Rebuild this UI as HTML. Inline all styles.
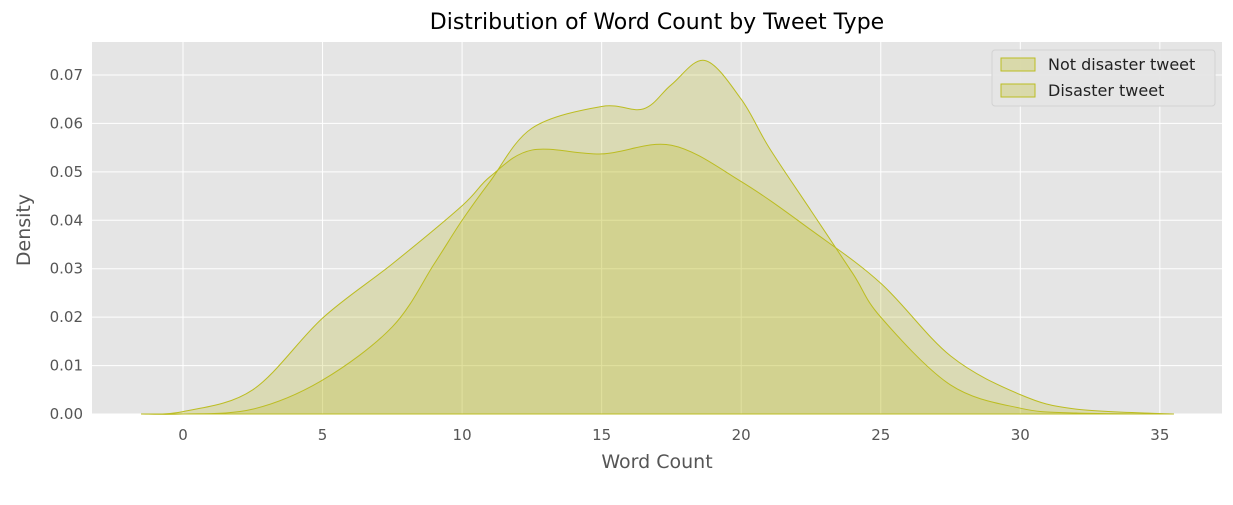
<!DOCTYPE html>
<html><head><meta charset="utf-8"><style>
body{margin:0;background:#fff;font-family:"Liberation Sans","DejaVu Sans",sans-serif}
svg text{font-family:"DejaVu Sans","Liberation Sans",sans-serif}
</style></head><body>
<svg id="c" width="1233" height="500">
<rect x="92" y="42" width="1130" height="372" fill="#e5e5e5"/>
<g id="grid"></g><g id="marks"></g><g id="axes"></g>
<text x="657" y="29" font-size="22" text-anchor="middle" fill="#000">Distribution of Word Count by Tweet Type</text>
<text x="657" y="468" font-size="19" text-anchor="middle" fill="#555">Word Count</text>
<text transform="translate(30,230) rotate(-90)" font-size="19" text-anchor="middle" fill="#555">Density</text>
<g>
<rect x="992" y="50" width="223" height="56" rx="3" fill="#e5e5e5" stroke="#d0d0d0" opacity="0.9"/>
<g><rect x="1001" y="58" width="34" height="13" fill="rgba(188,189,34,0.3)" stroke="#bcbd22"/><text x="1048" y="70" font-size="16" fill="#222">Not disaster tweet</text></g>
<g><rect x="1001" y="84" width="34" height="13" fill="rgba(188,189,34,0.3)" stroke="#bcbd22"/><text x="1048" y="96" font-size="16" fill="#222">Disaster tweet</text></g>
</g>
</svg>
<script>
const xTicks=[0,5,10,15,20,25,30,35];
const yTicks=[0,0.01,0.02,0.03,0.04,0.05,0.06,0.07];
const notX=[-1.5,0,2.5,5,7.5,10,11,12.5,15,17.5,20,22.5,25,27.5,30,32,35.5];
const notY=[0,0.0005,0.005,0.0198,0.031,0.043,0.049,0.0545,0.0537,0.0555,0.048,0.038,0.027,0.012,0.004,0.001,0];
const disX=[-1.5,0,2.5,5,7.5,9,10,11,12.5,15,16.5,17.5,18.7,20,21,22.5,24,25,27.5,30,32,35.5];
const disY=[0,0,0.001,0.007,0.018,0.031,0.040,0.048,0.059,0.0635,0.063,0.068,0.073,0.065,0.055,0.042,0.029,0.020,0.006,0.0012,0.0002,0];
const X=v=>183+v*27.91, Y=v=>414-v*4843;
const NS="http://www.w3.org/2000/svg";
function mk(t,a,p){const e=document.createElementNS(NS,t);for(const k in a)e.setAttribute(k,a[k]);p.appendChild(e);return e;}
const g=document.getElementById('grid'),ax=document.getElementById('axes'),m=document.getElementById('marks');
xTicks.forEach(t=>{const l=mk('line',{x1:X(t),x2:X(t),y1:42,y2:414,stroke:'#fff','stroke-width':1},g);


const tx=mk('text',{x:X(t),y:440,'font-size':15,'text-anchor':'middle',fill:'#555'},ax);tx.textContent=t;

});
yTicks.forEach(t=>{const l=mk('line',{x1:92,x2:1222,y1:Y(t),y2:Y(t),stroke:'#fff','stroke-width':1},g);


const tx=mk('text',{x:83,y:Y(t)+5,'font-size':15,'text-anchor':'end',fill:'#555'},ax);tx.textContent=t.toFixed(2);

});
function path(xs,ys){const p=xs.map((x,i)=>[X(x),Y(ys[i])]);let d=`M${p[0][0]},${Y(0)} L${p[0][0]},${p[0][1]}`;
for(let i=0;i<p.length-1;i++){const a=p[i-1]||p[i],b=p[i],c=p[i+1],e=p[i+2]||c;
d+=` C${b[0]+(c[0]-a[0])/6},${b[1]+(c[1]-a[1])/6} ${c[0]-(e[0]-b[0])/6},${c[1]-(e[1]-b[1])/6} ${c[0]},${c[1]}`;}
return d+` L${p[p.length-1][0]},${Y(0)} Z`;}
const a=mk('path',{d:path(notX,notY),fill:'rgba(188,189,34,0.25)',stroke:'#bcbd22','stroke-width':1},m);


const b=mk('path',{d:path(disX,disY),fill:'rgba(188,189,34,0.25)',stroke:'#bcbd22','stroke-width':1},m);


</script>
</body></html>
